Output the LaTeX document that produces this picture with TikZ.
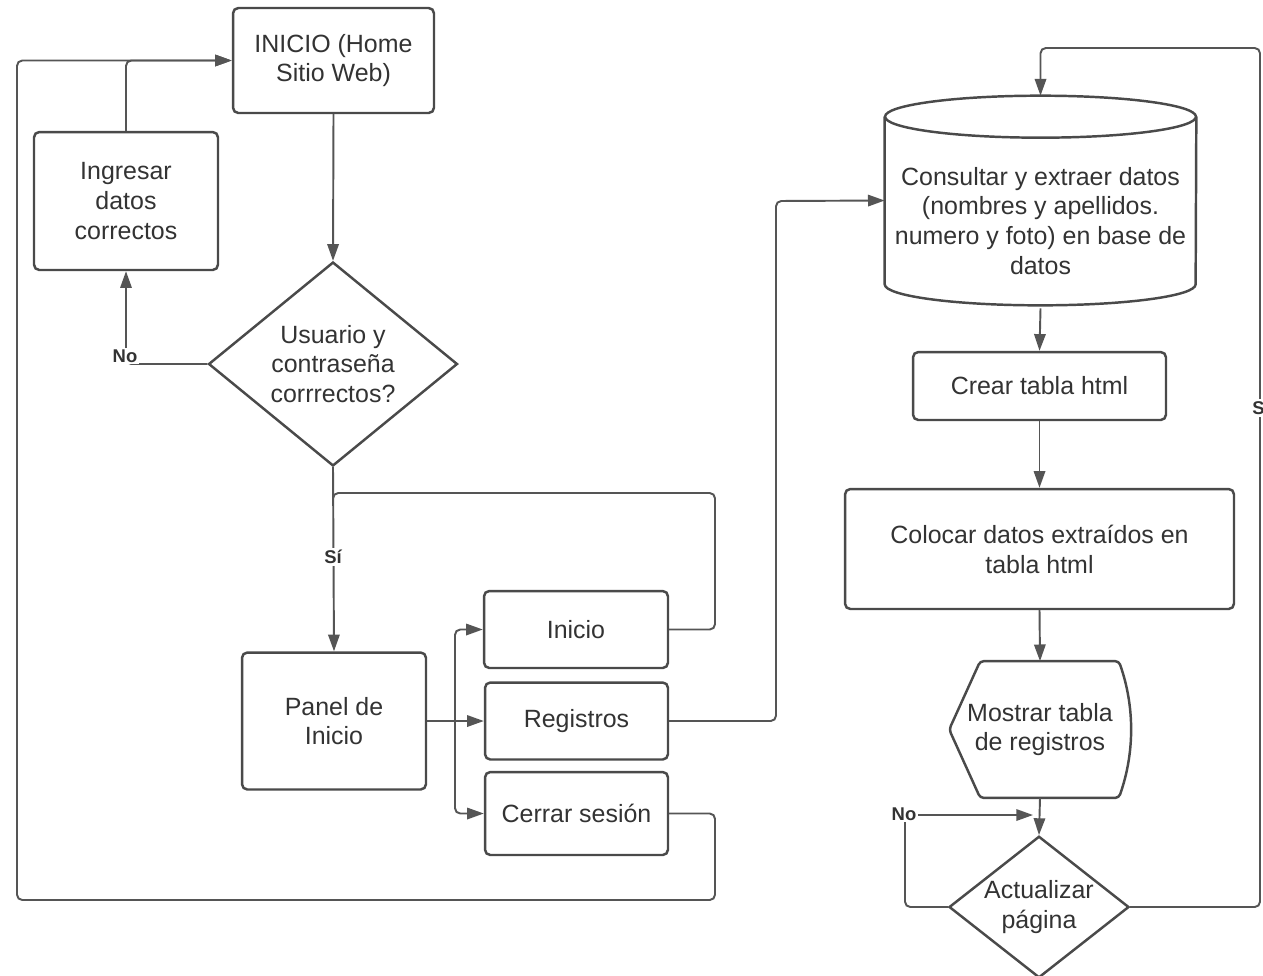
\documentclass[tikz,border=0pt]{standalone}
\usepackage{fontspec}
\setmainfont{Liberation Sans}
\usetikzlibrary{arrows.meta,shapes.geometric,calc}

\definecolor{edge}{HTML}{555555}
\definecolor{ink}{HTML}{333333}
\definecolor{frame}{HTML}{4a4a4a}

\begin{document}
\begin{tikzpicture}[x=0.02cm,y=-0.02cm,
  every node/.style={text=ink},
  txt/.style={font=\fontsize{14.2}{17}\selectfont, align=center},
  box/.style={txt, draw=frame, line width=1.4pt, rounded corners=3pt, inner sep=0pt},
  dec/.style={txt, draw=frame, line width=1.4pt, diamond, inner sep=0pt},
  plain/.style={txt, inner sep=0pt},
  conn/.style={draw=edge, line width=1.1pt, rounded corners=3pt},
  arr/.style={conn, -{Triangle[length=9.5pt,width=6.5pt]}},
  lbl/.style={font=\bfseries\fontsize{10.5}{12}\selectfont, fill=white, inner sep=1pt, text=ink},
  shapeline/.style={draw=frame, line width=1.4pt}]

% page frame
\useasboundingbox[fill=white] (0,0) rectangle (1263,975);

% ---- login side ----
\node[box, minimum width=4.02cm, minimum height=2.10cm] (inicio) at (333.5,60.5) {INICIO (Home\\Sitio Web)};
\node[box, minimum width=3.68cm, minimum height=2.76cm] (ingresar) at (126,201) {Ingresar\\datos\\correctos};
\node[dec, minimum width=4.98cm, minimum height=4.08cm] (dec1) at (333,364) {Usuario y\\contraseña\\corrrectos?};
\node[box, minimum width=3.68cm, minimum height=2.74cm] (panel) at (334,721) {Panel de\\Inicio};
\node[box, minimum width=3.68cm, minimum height=1.54cm] (ini) at (576,629.5) {Inicio};
\node[box, minimum width=3.66cm, minimum height=1.54cm] (reg) at (576.5,721) {Registros};
\node[box, minimum width=3.66cm, minimum height=1.66cm] (cer) at (576.5,813.5) {Cerrar sesión};

% ---- records side ----
\node[plain, minimum width=6.22cm, minimum height=4.18cm] (db) at (1040.5,200.5) {};
\node[plain] (dbtext) at (1040.5,221) {Consultar y extraer datos\\(nombres y apellidos.\\numero y foto) en base de\\datos};
\node[box, minimum width=5.06cm, minimum height=1.36cm] (crear) at (1039.5,386) {Crear tabla html};
\node[box, minimum width=7.78cm, minimum height=2.40cm] (colocar) at (1039.5,549) {Colocar datos extraídos en\\tabla html};
\node[plain, minimum width=3.62cm, minimum height=2.72cm] (mostrar) at (1040,729.5) {Mostrar tabla\\de registros};
\node[dec, minimum width=3.60cm, minimum height=2.66cm, inner sep=-3pt] (act) at (1039,907) {Actualizar\\página};

% database cylinder
\draw[shapeline] ($(db.north)+(0,21)$) ellipse [x radius=3.11cm, y radius=0.42cm];
\draw[shapeline] ($(db.north west)+(0,21)$) -- ($(db.south west)+(0,-21)$)
  arc[start angle=180, end angle=360, x radius=3.11cm, y radius=0.42cm]
  -- ($(db.north east)+(0,21)$);

% display shape
\draw[shapeline, rounded corners=2pt]
  ($(mostrar.north west)+(31,0)$) -- ($(mostrar.north east)+(-12,0)$)
  .. controls +(16,45) and +(16,-45) .. ($(mostrar.south east)+(-12,0)$)
  -- ($(mostrar.south west)+(31,0)$) -- (mostrar.west) -- cycle;

% helper points for routed connectors
\coordinate (c1) at (715,900);
\coordinate (c2) at (17,900);
\coordinate (c3) at (715,493);
\coordinate (b)  at (455,721);
\coordinate (c4) at (776,201);
\coordinate (c5) at (905,815);
\coordinate (c6) at (1033,815);
\coordinate (c7) at (1260,48);

% ---- connectors ----
\draw[arr] (inicio.south) -- (dec1.north);
\draw[arr] (dec1.west) -| (ingresar.south);
\draw[arr] (ingresar.north) |- (inicio.west);
\draw[arr] (cer.east) -| (c1) -- (c2) |- (inicio.west);
\draw[arr] (dec1.south) -- (panel.north);
\draw[conn] (ini.east) -| (c3) -- (dec1.south |- c3) -- ++(0,12);
\draw[arr] (panel.east) -- (reg.west);
\draw[arr] (b) |- (ini.west);
\draw[arr] (b) |- (cer.west);
\draw[arr] (reg.east) -| (c4) -- (db.west);
\draw[arr] ($(db.south)+(0,3)$) -- (crear.north);
\draw[arr] (crear.south) -- (colocar.north);
\draw[arr] (colocar.south) -- (mostrar.north);
\draw[arr] (mostrar.south) -- (act.north);
\draw[arr] (act.west) -| (c5) -- (c6);
\draw[arr] (act.east) -| (c7) -| (db.north);

% ---- branch labels ----
\node[lbl] (no1) at (125,356) {No};
\node[lbl] (si1) at (333,557) {Sí};
\node[lbl] (no2) at (904,814) {No};
\node[lbl] (si2) at (1261,408) {Sí};
\end{tikzpicture}
\end{document}
